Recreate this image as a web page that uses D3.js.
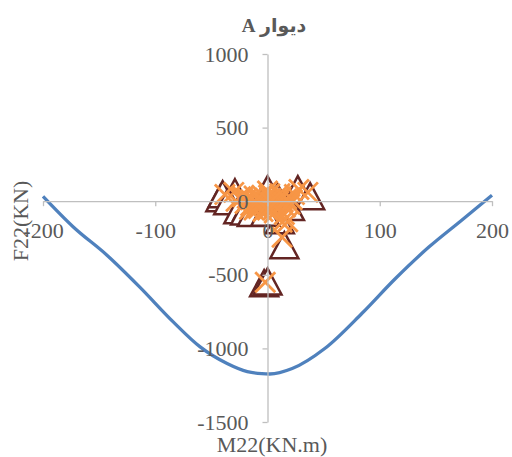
<!DOCTYPE html>
<html>
<head>
<meta charset="utf-8">
<script src="https://cdn.jsdelivr.net/npm/d3@7"></script>
<style>
body{margin:0;background:#fff;}
</style>
</head>
<body>
<script>
// interaction curve (M22, F22)
const curveM = [-200, -173, -143, -114, -84, -60, -36, -18, -5, 2, 22, 51, 84, 114, 144, 173, 200];
const curveF = [33, -175, -367, -582, -820, -990, -1103, -1158, -1172, -1174, -1137, -1001, -763, -525, -310, -129, 41];

// load points drawn as triangles
const triM = [-42, -40, -29, -35, -26, -18, -10, -20, 5, 0, 9, 27, 38, 11, 15, -3, 0, 20, -5, -14, -2];
const triF = [20, 48, 61, 0, -61, -40, -75, -70, -70, 82, 27, 82, 34, -129, -299, -557, -545, -40, -20, -80, -78];

// load points drawn as crosses
const crossM = [-38, -30, -22, -15, -10, -5, 0, 3, 8, 12, -8, 5, 15, 28, 36, 24, 18, -2, -15, 10, 0, -5, 20, -28, 13, 13, 2, -12, 6, -3,
	-18, -12, -6, 4, 9, 14, -20, -10, -1, 7, 16, -16, -8, 1, 11, -4, 6, 17, -11, 3, 22, -24, 0];
const crossF = [45, 60, 30, 10, -20, 40, 70, 20, -10, 30, -50, -60, -90, 80, 60, 45, -140, -550, -30, 0, -20, 5, -20, 0, -245, -143, 50, -60, -35, -10,
	20, 35, 15, 5, 10, -5, -15, -40, -45, -25, -40, -55, 25, 40, 50, -70, -80, 15, 0, -5, 10, 30, -60];

const xTicks = [-200, -100, 0, 100, 200];
const yTicks = [-1500, -1000, -500, 0, 500, 1000];

const W = 512, H = 457;
const svg = d3.select("body").append("svg")
	.attr("width", W)
	.attr("height", H);

const x = d3.scaleLinear().domain([-200, 200]).range([43, 492]);
const y = d3.scaleLinear().domain([-1500, 1000]).range([422, 54]);

const font = "'Liberation Serif', 'Times New Roman', serif";

// curve
const line = d3.line()
	.x(function(d) { return x(d[0]); })
	.y(function(d) { return y(d[1]); })
	.curve(d3.curveMonotoneX);
svg.append("path")
	.datum(d3.zip(curveM, curveF))
	.attr("d", line)
	.attr("fill", "none")
	.attr("stroke", "#4F81BD")
	.attr("stroke-width", 3.3);

// triangles
svg.append("g")
	.selectAll("path")
	.data(d3.zip(triM, triF))
	.join("path")
	.attr("transform", function(d) { return "translate(" + x(d[0]) + "," + y(d[1]) + ")"; })
	.attr("d", "M0,-13L14,13L-14,13Z")
	.attr("fill", "#ffffff")
	.attr("stroke", "#632523")
	.attr("stroke-width", 2.5);

// crosses
svg.append("g")
	.selectAll("path")
	.data(d3.zip(crossM, crossF))
	.join("path")
	.attr("transform", function(d) { return "translate(" + x(d[0]) + "," + y(d[1]) + ")"; })
	.attr("d", "M-10,-10L10,10M10,-10L-10,10")
	.attr("fill", "none")
	.attr("stroke", "#F79646")
	.attr("stroke-width", 2.8);

// axes
const xAxis = svg.append("g")
	.attr("transform", "translate(0," + y(0) + ")")
	.call(d3.axisBottom(x).tickValues(xTicks).tickSize(5).tickSizeOuter(0).tickPadding(16)
		.tickFormat(function(d) { return String(d); }));
const yAxis = svg.append("g")
	.attr("transform", "translate(" + x(0) + ",0)")
	.call(d3.axisLeft(y).tickValues(yTicks).tickSize(5).tickSizeOuter(0).tickPadding(14)
		.tickFormat(function(d) { return String(d); }));

[xAxis, yAxis].forEach(function(g) {
	g.select(".domain").attr("stroke", "#BFBFBF").attr("stroke-width", 1.3);
	g.selectAll(".tick line").attr("stroke", "#BFBFBF").attr("stroke-width", 1.3);
	g.selectAll("text")
		.attr("fill", "#595959")
		.style("font-family", font)
		.style("font-size", "22px");
});

// titles
svg.append("text")
	.attr("x", 274)
	.attr("y", 32)
	.attr("text-anchor", "middle")
	.attr("direction", "rtl")
	.attr("fill", "#595959")
	.style("font-family", font + ", 'DejaVu Sans'")
	.style("font-size", "19px")
	.style("font-weight", "bold")
	.text("دیوار A");

svg.append("text")
	.attr("x", 272)
	.attr("y", 452)
	.attr("text-anchor", "middle")
	.attr("fill", "#595959")
	.style("font-family", font)
	.style("font-size", "22px")
	.text("M22(KN.m)");

svg.append("text")
	.attr("transform", "translate(28,221) rotate(-90)")
	.attr("text-anchor", "middle")
	.attr("fill", "#595959")
	.style("font-family", font)
	.style("font-size", "22px")
	.text("F22(KN)");
</script>
</body>
</html>
